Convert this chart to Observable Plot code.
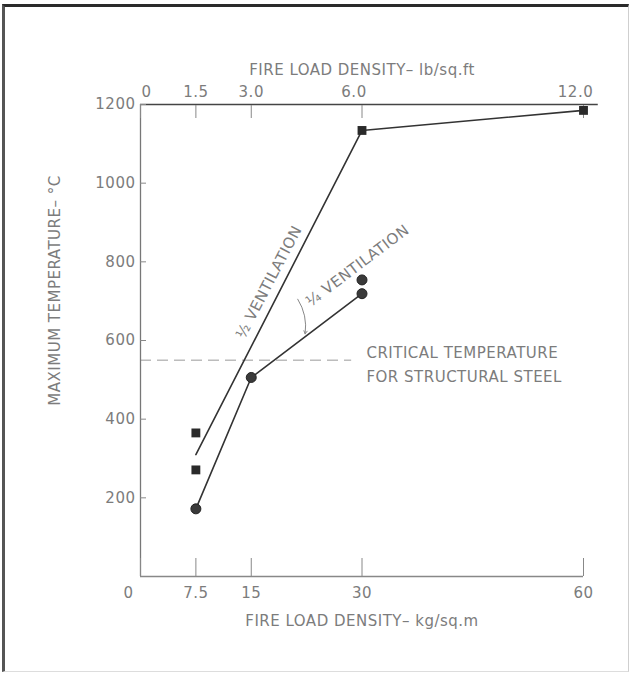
<!DOCTYPE html>
<html><head><meta charset="utf-8">
<script src="https://cdn.jsdelivr.net/npm/d3@7"></script>
<script src="https://cdn.jsdelivr.net/npm/@observablehq/plot@0.6"></script>
<style>
body{margin:0;background:#fff;}
#wrap{position:relative;width:632px;height:674px;overflow:hidden;}
#frame{position:absolute;left:2px;top:4px;width:627px;height:668px;border-top:3px solid #2a2a2a;border-left:3px solid #555;border-right:1px solid #cfcfcf;border-bottom:1px solid #ddd;box-sizing:border-box;pointer-events:none}
</style></head><body><div id="wrap"><div id="frame"></div></div>
<script>
// Axis ticks and labels
const kgTicks = [0, 7.5, 15, 30, 60];
const kgLabels = ["0", "7.5", "15", "30", "60"];
const lbLabels = ["0", "1.5", "3.0", "6.0", "12.0"];
const tempTicks = [200, 400, 600, 800, 1000, 1200];

// Series: 1/2 ventilation (squares + line)
const halfLineX = [7.5, 30, 60];
const halfLineY = [310, 1134, 1185];
const halfPtsX = [7.5, 7.5, 30, 60];
const halfPtsY = [365, 271, 1134, 1185];

// Series: 1/4 ventilation (circles + line)
const quarterLineX = [7.5, 15, 30];
const quarterLineY = [172, 506, 719];
const quarterPtsX = [7.5, 15, 30, 30];
const quarterPtsY = [172, 506, 719, 754];

const criticalTemp = 550;

const half = halfLineX.map((x, i) => ({x, y: halfLineY[i]}));
const halfPts = halfPtsX.map((x, i) => ({x, y: halfPtsY[i]}));
const quarter = quarterLineX.map((x, i) => ({x, y: quarterLineY[i]}));
const quarterPts = quarterPtsX.map((x, i) => ({x, y: quarterPtsY[i]}));

const txt = "#7c7c7c";
const font = "DejaVu Sans, Verdana, sans-serif";

const chart = Plot.plot({
  width: 632, height: 674,
  marginLeft: 140, marginRight: 49, marginTop: 104, marginBottom: 98,
  style: {fontFamily: font, fontSize: "15px", letterSpacing: "0.5px", color: txt, background: "transparent"},
  x: {domain: [0, 60]},
  y: {domain: [0, 1200]},
  marks: [
    // critical temperature dashed line
    Plot.ruleY([criticalTemp], {x1: 0, x2: 28.6, stroke: "#9a9a9a", strokeWidth: 1, strokeDasharray: "11,6"}),
    // axis lines
    Plot.ruleX([0], {stroke: "#777", strokeWidth: 1.3}),
    Plot.ruleY([0], {stroke: "#888", strokeWidth: 1.3}),
    Plot.ruleY([1200], {x1: 0, x2: 62, stroke: "#444", strokeWidth: 1.3}),
    // inward ticks
    Plot.axisX({anchor: "bottom", ticks: kgTicks, tickSize: 18, dy: -18, tickFormat: () => "", label: null, stroke: "#888"}),
    Plot.axisX({anchor: "top", ticks: kgTicks, tickSize: 13, dy: 13, tickFormat: () => "", label: null, stroke: "#888"}),
    Plot.axisY({anchor: "left", ticks: tempTicks, tickSize: 6, dx: 6, tickFormat: () => "", label: null, stroke: "#888"}),
    // tick labels
    Plot.text(kgTicks.slice(1), {x: d => d, text: (d, i) => kgLabels[i + 1], frameAnchor: "bottom", dy: 21, fill: txt}),
    Plot.text(kgTicks.slice(0, 1), {x: d => d, text: () => kgLabels[0], frameAnchor: "bottom", dy: 21, dx: -12, fill: txt}),
    Plot.text(kgTicks.slice(1, 3), {x: d => d, text: (d, i) => lbLabels[i + 1], frameAnchor: "top", dy: -12, lineAnchor: "middle", fill: txt}),
    Plot.text(kgTicks.slice(3), {x: d => d, text: (d, i) => lbLabels[i + 3], frameAnchor: "top", dy: -12, lineAnchor: "middle", dx: -8, fill: txt}),
    Plot.text(kgTicks.slice(0, 1), {x: d => d, text: () => lbLabels[0], frameAnchor: "top", dy: -12, lineAnchor: "middle", dx: 6, fill: txt}),
    Plot.text(tempTicks, {y: d => d, text: d => String(d), frameAnchor: "left", dx: -5, textAnchor: "end", fill: txt}),
    // axis titles
    Plot.text(["FIRE LOAD DENSITY– kg/sq.m"], {frameAnchor: "bottom", dy: 45, lineAnchor: "middle", fill: txt}),
    Plot.text(["FIRE LOAD DENSITY– lb/sq.ft"], {frameAnchor: "top", dy: -34, lineAnchor: "middle", fill: txt}),
    Plot.text(["MAXIMUM TEMPERATURE– °C"], {frameAnchor: "left", textAnchor: "middle", dx: -85, dy: -50, rotate: -90, fill: txt}),
    // critical temperature annotation
    Plot.text(["CRITICAL TEMPERATURE\nFOR STRUCTURAL STEEL"], {x: 30.6, y: criticalTemp, dy: 2, textAnchor: "start", lineHeight: 1.6, fill: txt}),
    // series lines
    Plot.line(half, {x: "x", y: "y", stroke: "#333", strokeWidth: 1.6}),
    Plot.line(quarter, {x: "x", y: "y", stroke: "#333", strokeWidth: 1.6}),
    // points
    Plot.dot(halfPts, {x: "x", y: "y", symbol: "square", r: 5, fill: "#2a2a2a"}),
    Plot.dot(quarterPts, {x: "x", y: "y", r: 5, fill: "#3a3a3a", stroke: "#222", strokeWidth: 1}),
    // series labels
    Plot.text(["½ VENTILATION"], {x: 17.4, y: 748, rotate: -62.5, fill: txt}),
    Plot.text(["¼ VENTILATION"], {x: 29.4, y: 790, rotate: -37, fill: txt}),
    Plot.arrow([{x1: 21.3, y1: 705, x2: 22.3, y2: 617}], {x1: "x1", y1: "y1", x2: "x2", y2: "y2", bend: 20, stroke: "#888", strokeWidth: 1, headLength: 5})
  ]
});
document.getElementById("wrap").prepend(chart);
</script>
</body></html>
